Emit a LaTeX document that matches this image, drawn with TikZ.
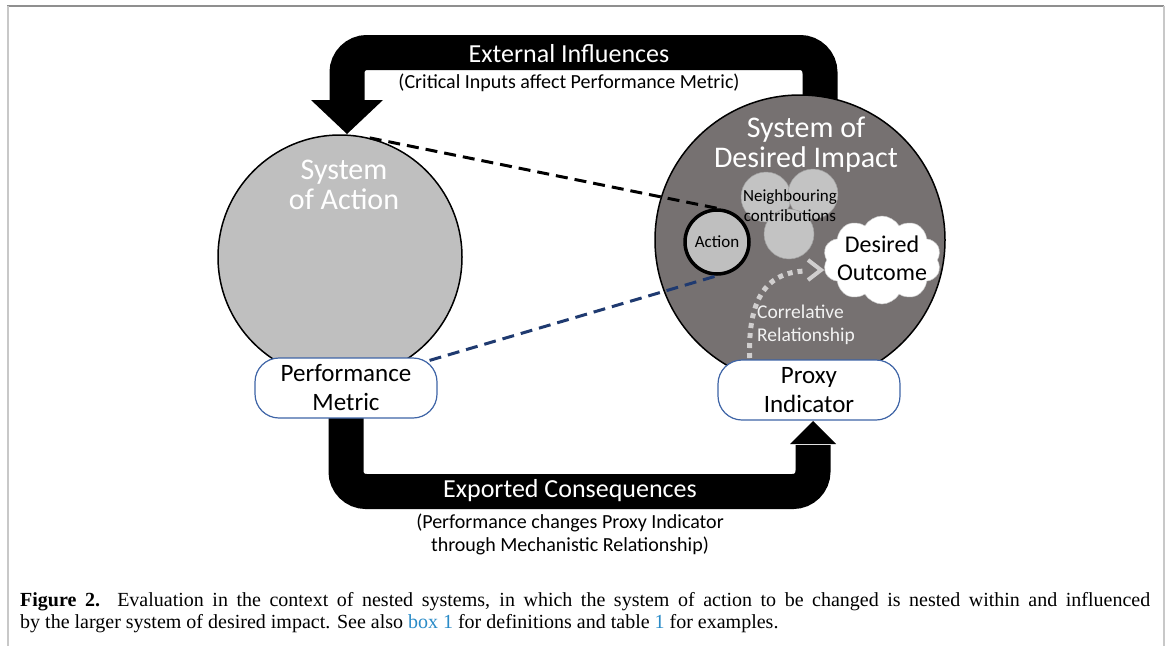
\documentclass[tikz,border=0pt]{standalone}
\usepackage{fontspec}
\setmainfont{Carlito}
\newfontfamily\capfont{Liberation Serif}
\usetikzlibrary{shapes.symbols,calc}
\pgfdeclarelayer{bg}
\pgfsetlayers{bg,main}
\definecolor{lgray}{HTML}{BFBFBF}
\definecolor{dgray}{HTML}{767171}
\definecolor{nbgray}{HTML}{C3C3C3}
\definecolor{boxblue}{HTML}{3E64A6}
\definecolor{navy}{HTML}{1F3A70}
\definecolor{dotgray}{HTML}{D0CECE}
\definecolor{capblue}{HTML}{2A8BC7}
\definecolor{framegray}{HTML}{8F8F8F}
\definecolor{sidegray}{HTML}{C8C8C8}
\definecolor{lighttext}{HTML}{F2F2F2}
\newcommand\fs[2]{\fontsize{#1pt}{#2pt}\selectfont}
\tikzset{
  band/.style={line width=35pt, draw=black, rounded corners=20pt},
  headfill/.style={fill=black},
  bigwhite/.style={text=white, align=center, font=\fs{30}{30}, inner sep=0pt},
  pbox/.style={draw=boxblue, line width=1.2pt, fill=white, rounded corners=24pt,
    minimum width=182pt, minimum height=60pt, align=center, font=\fs{25}{29}, inner sep=0pt},
  nbcirc/.style={circle, fill=nbgray, draw=gray!75, line width=0.5pt, minimum size=50pt, inner sep=0pt},
  bandlabel/.style={text=white, font=\fs{26}{30}, inner sep=0pt},
  sublabel/.style={text=black, font=\fs{20}{23}, align=center, inner sep=0pt},
  dashblack/.style={draw=black, line width=3pt, dash pattern=on 12pt off 7pt},
  dashnavy/.style={draw=navy, line width=3pt, dash pattern=on 12pt off 7pt},
  dotline/.style={draw=dotgray, line width=5pt, dash pattern=on 5pt off 5pt},
  chev/.style={draw=dotgray, line width=4pt, line join=miter},
  frameline/.style={line width=1.5pt}
}
\begin{document}
\begin{tikzpicture}[x=1pt,y=-1pt]
\useasboundingbox (0,0) rectangle (1170,646);
% frame
\coordinate (f1) at (7,6);
\coordinate (f2) at (1164,6);
\coordinate (f3) at (7.5,646);
\coordinate (f4) at (1164,646);
\draw[frameline, framegray] (f1) -- (f2);
\draw[line width=2pt, sidegray] (7.5,6) -- (f3);
\draw[line width=2pt, sidegray] (f2) -- (f4);

% big circles
\node[circle, draw=black, line width=1.5pt, fill=lgray, minimum size=244pt, inner sep=0pt] (soa) at (340,257) {};
\node[circle, draw=black, line width=1.5pt, fill=dgray, minimum size=290pt, inner sep=0pt] (sdi) at (800,240) {};

\node[bigwhite] (soatxt) at (344,185) {System\\of Action};
\node[bigwhite] (sditxt) at (806,145) {System of\\Desired Impact};

% neighbouring contributions
\node[nbcirc] (nb1) at (766,197) {};
\node[nbcirc] (nb2) at (813,194) {};
\node[nbcirc] (nb3) at (789,234) {};
\node[font=\fs{17}{20}, align=center, inner sep=0pt] (nbtxt) at (790,206) {Neighbouring\\contributions};

% action
\node[circle, draw=black, line width=3.5pt, fill=lgray, minimum size=64pt, inner sep=0pt, font=\fs{17}{20}] (act) at (717,242) {Action};

% desired outcome cloud
\node[cloud, cloud puffs=10, cloud puff arc=120, aspect=1.35, fill=white, draw=gray!40, line width=0.5pt,
  minimum width=118pt, minimum height=88pt, inner sep=0pt] (cloud) at (882,260) {};
\node[font=\fs{24}{28}, align=center, inner sep=0pt] (outtxt) at (882,258) {Desired\\Outcome};

% correlative relationship
\coordinate (cstart) at (750,368);
\coordinate (cend) at (806,271);
\coordinate (ctip) at (821,270);
\draw[dotline] (cstart) .. controls (746,300) and (765,272) .. (cend);
\draw[chev] (808,260) -- (ctip) -- (808,280);
\node[text=lighttext, font=\fs{19.5}{23}, align=left, anchor=west, inner sep=0pt] (corr) at (757,325) {Correlative\\Relationship};

% boxes
\node[pbox] (pm) at (346,388) {Performance\\Metric};
\node[pbox] (pp) at (809,390) {Proxy\\Indicator};

% dashed lines
\coordinate (pmne) at ($(pm.north east)+(-8,3)$);
\draw[dashblack] (soa.76) -- (act.north);
\draw[dashnavy] (pmne) -- (act.south);

% bands
\coordinate (eitip) at (347,134);
\coordinate (eil) at (311,100);
\coordinate (eir) at (383,100);
\coordinate (ectip) at (813,421);
\coordinate (ecl) at (790,444);
\coordinate (ecr) at (836,444);
\begin{pgfonlayer}{bg}
\draw[band] ([xshift=20pt]sdi.center) |- (347,52.5) -- (347,101);
\draw[band] (pm.center) |- (813,491.5) -- (813,445);
\end{pgfonlayer}
\fill[headfill] (eil) -- (eir) -- (eitip) -- cycle;
\fill[headfill] (ecl) -- (ecr) -- (ectip) -- cycle;

\node[bandlabel] (eilab) at (569,54) {External Influences};
\node[sublabel] (eisub) at (569,83) {(Critical Inputs affect Performance Metric)};
\node[bandlabel] (eclab) at (570,491) {Exported Consequences};
\node[sublabel] (ecsub) at (570,534) {(Performance changes Proxy Indicator\\through Mechanistic Relationship)};

% caption
\node[anchor=north west, inner sep=0pt, text width=1130pt, align=justify, font=\capfont\fs{20}{22}] (cap) at (20,592)
{\textbf{Figure 2.} Evaluation in the context of nested systems, in which the system of action to be changed is nested within and influenced\linebreak
by the larger system of desired impact. See also \textcolor{capblue}{box 1} for definitions and table \textcolor{capblue}{1} for examples.};
\end{tikzpicture}
\end{document}
